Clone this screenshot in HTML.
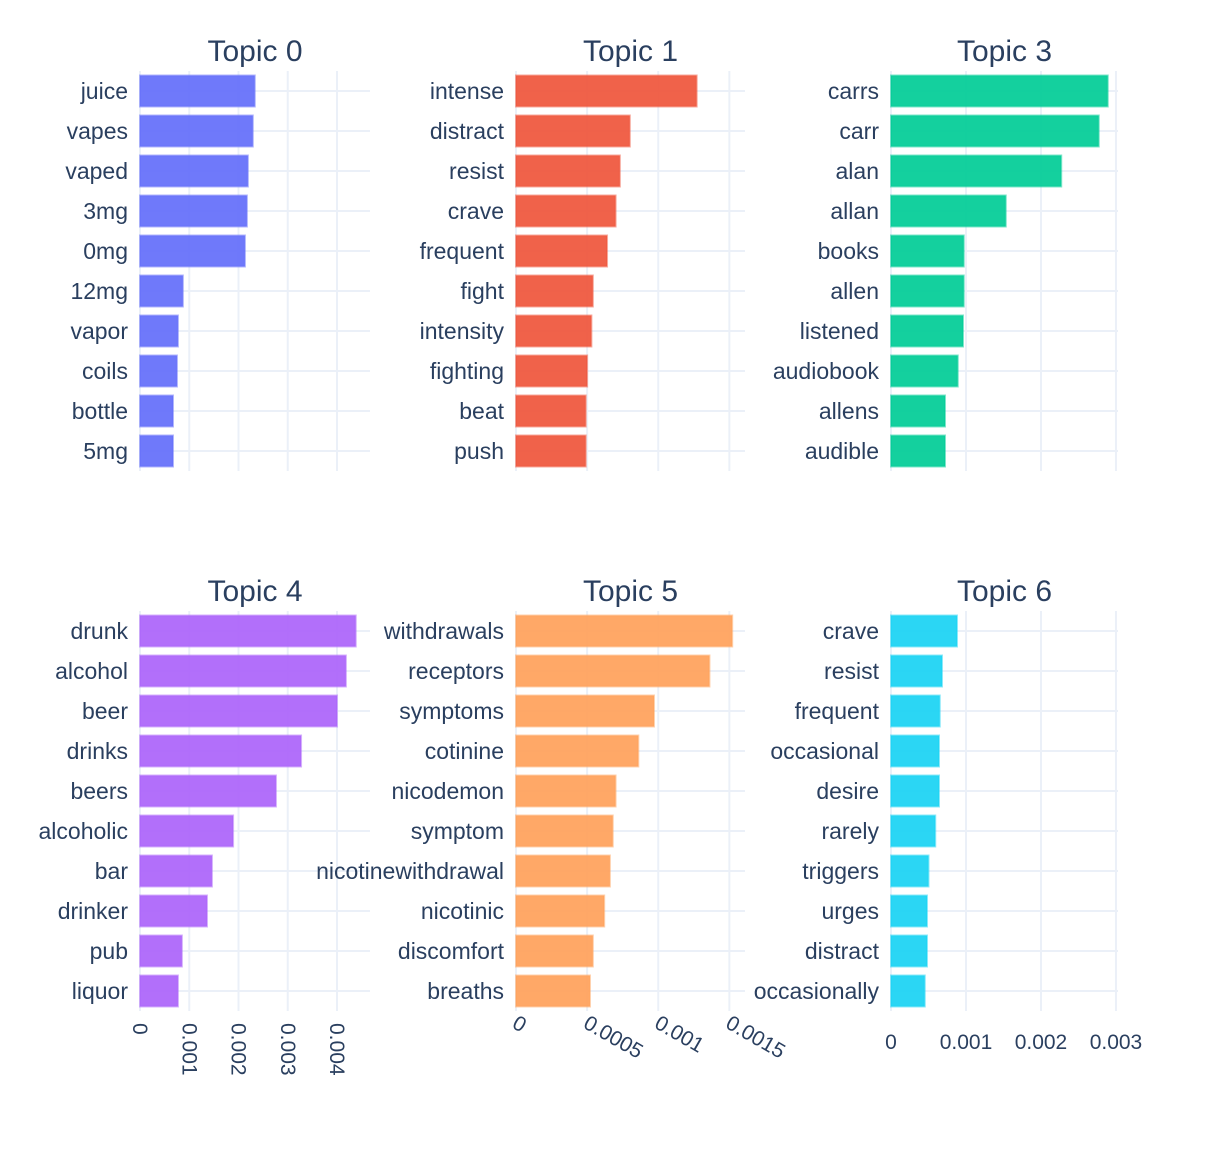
<!DOCTYPE html>
<html><head><meta charset="utf-8"><style>
body{margin:0;background:#fff;}
svg text{font-family:"Liberation Sans",sans-serif;fill:#2a3f5f;}
</style></head><body>
<svg id="chart" width="1212" height="1154" xmlns="http://www.w3.org/2000/svg"></svg>
<script>
const topic0Words=["juice","vapes","vaped","3mg","0mg","12mg","vapor","coils","bottle","5mg"];
const topic0Values=[0.00233,0.00229,0.00219,0.00217,0.00213,0.00087,0.00077,0.00075,0.00067,0.00067];
const topic1Words=["intense","distract","resist","crave","frequent","fight","intensity","fighting","beat","push"];
const topic1Values=[0.00127,0.00080,0.00073,0.00070,0.00064,0.00054,0.00053,0.00050,0.00049,0.00049];
const topic3Words=["carrs","carr","alan","allan","books","allen","listened","audiobook","allens","audible"];
const topic3Values=[0.00289,0.00277,0.00227,0.00153,0.00097,0.00097,0.00096,0.00089,0.00072,0.00072];
const topic4Words=["drunk","alcohol","beer","drinks","beers","alcoholic","bar","drinker","pub","liquor"];
const topic4Values=[0.00438,0.00418,0.00400,0.00327,0.00276,0.00189,0.00146,0.00136,0.00085,0.00077];
const topic5Words=["withdrawals","receptors","symptoms","cotinine","nicodemon","symptom","nicotinewithdrawal","nicotinic","discomfort","breaths"];
const topic5Values=[0.00152,0.00136,0.00097,0.00086,0.00070,0.00068,0.00066,0.00062,0.00054,0.00052];
const topic6Words=["crave","resist","frequent","occasional","desire","rarely","triggers","urges","distract","occasionally"];
const topic6Values=[0.00088,0.00068,0.00065,0.00064,0.00064,0.00059,0.00050,0.00048,0.00048,0.00045];
const col1Ticks=[0,0.001,0.002,0.003,0.004];
const col1TickLabels=["0","0.001","0.002","0.003","0.004"];
const col2Ticks=[0,0.0005,0.001,0.0015];
const col2TickLabels=["0","0.0005","0.001","0.0015"];
const col3Ticks=[0,0.001,0.002,0.003];
const col3TickLabels=["0","0.001","0.002","0.003"];

const NS="http://www.w3.org/2000/svg";
const svg=document.getElementById('chart');
function mk(tag,attrs,parent){const e=document.createElementNS(NS,tag);for(const k in attrs)e.setAttribute(k,attrs[k]);(parent||svg).appendChild(e);return e;}

const cols=[
 {x0:140,x1:370,max:0.00467,ticks:col1Ticks,labels:col1TickLabels,rot:90},
 {x0:516,x1:745,max:0.00161,ticks:col2Ticks,labels:col2TickLabels,rot:30},
 {x0:891,x1:1118,max:0.003027,ticks:col3Ticks,labels:col3TickLabels,rot:0}
];
const rows=[{y0:71},{y0:611}];
const panels=[
 {title:"Topic 0",words:topic0Words,values:topic0Values,c:0,r:0,color:"#636efa"},
 {title:"Topic 1",words:topic1Words,values:topic1Values,c:1,r:0,color:"#EF553B"},
 {title:"Topic 3",words:topic3Words,values:topic3Values,c:2,r:0,color:"#00cc96"},
 {title:"Topic 4",words:topic4Words,values:topic4Values,c:0,r:1,color:"#ab63fa"},
 {title:"Topic 5",words:topic5Words,values:topic5Values,c:1,r:1,color:"#FFA15A"},
 {title:"Topic 6",words:topic6Words,values:topic6Values,c:2,r:1,color:"#19d3f3"}
];
panels.forEach((p,pi)=>{
 const col=cols[p.c],row=rows[p.r];
 const g=mk('g',{});
 
 
 const xs=v=>col.x0+(v/col.max)*(col.x1-col.x0);
 const ys=i=>row.y0+20+i*40;
 const h=400;
 // vertical grid
 col.ticks.forEach((t,ti)=>{
  if(t===0)return;
  const l=mk('line',{x1:xs(t),x2:xs(t),y1:row.y0,y2:row.y0+h,stroke:"#ebf0f8","stroke-width":2},g);
  
  
 });
 p.words.forEach((w,i)=>{
  const l=mk('line',{x1:col.x0,x2:col.x1,y1:ys(i),y2:ys(i),stroke:"#ebf0f8","stroke-width":2},g);
  
  
 });
 const zl=mk('line',{x1:col.x0,x2:col.x0,y1:row.y0,y2:row.y0+h,stroke:"#ebf0f8","stroke-width":2},g);
 
 
 p.words.forEach((w,i)=>{
  const b=mk('rect',{x:col.x0,y:ys(i)-15.5,width:Math.max(0,xs(p.values[i])-col.x0),height:31,fill:p.color,"fill-opacity":0.92,stroke:p.color,"stroke-opacity":0.5,"stroke-width":2},g);
  
  
  const t=mk('text',{x:col.x0-12,y:ys(i)+8,"text-anchor":"end","font-size":23},g);
  t.textContent=w;
  
  
 });
 const tt=mk('text',{x:(col.x0+col.x1)/2,y:row.y0-10,"text-anchor":"middle","font-size":30},g);
 tt.textContent=p.title;
 
 
 if(p.r===1){
  col.ticks.forEach((t,ti)=>{
   const x=xs(t),y=row.y0+h+12;
   let el;
   if(col.rot===90){
    el=mk('text',{x:0,y:0,"font-size":21,transform:`translate(${x-7},${y}) rotate(90)`},g);
   }else if(col.rot===30){
    el=mk('text',{x:0,y:0,"font-size":21,transform:`translate(${x-5},${y+4}) rotate(30)`},g);
   }else{
    el=mk('text',{x:x,y:y+26,"text-anchor":"middle","font-size":21},g);
   }
   el.textContent=col.labels[ti];
   
   
  });
 }
});
</script>
</body></html>
